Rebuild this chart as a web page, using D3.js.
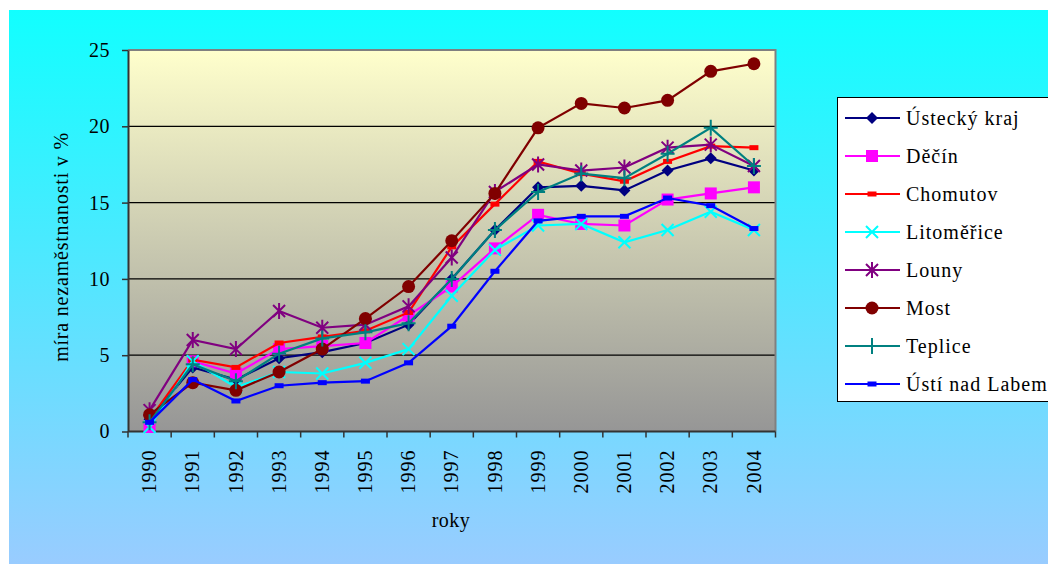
<!DOCTYPE html>
<html><head><meta charset="utf-8">
<script src="https://cdn.jsdelivr.net/npm/d3@7"></script>
<style>
html,body{margin:0;padding:0;background:#fff;}
svg{display:block;}
</style></head>
<body>
<script>
const years = ["1990","1991","1992","1993","1994","1995","1996","1997","1998","1999","2000","2001","2002","2003","2004"];
const seriesNames = ["Ústecký kraj","Děčín","Chomutov","Litoměřice","Louny","Most","Teplice","Ústí nad Labem"];
const usteckyKraj = [0.8, 4.2, 3.4, 4.8, 5.2, 5.8, 7.0, 10.0, 13.2, 16.0, 16.1, 15.8, 17.1, 17.9, 17.1];
const decin       = [0.3, 4.6, 3.8, 5.4, 5.6, 5.8, 7.6, 9.5, 12.0, 14.2, 13.6, 13.5, 15.2, 15.6, 16.0];
const chomutov    = [0.8, 4.7, 4.2, 5.8, 6.2, 6.6, 7.8, 12.1, 14.9, 17.7, 16.9, 16.4, 17.7, 18.7, 18.6];
const litomerice  = [0.3, 4.6, 2.9, 3.9, 3.8, 4.5, 5.4, 8.9, 11.9, 13.5, 13.6, 12.4, 13.2, 14.4, 13.2];
const louny       = [1.4, 6.0, 5.4, 7.9, 6.8, 7.0, 8.2, 11.4, 15.7, 17.5, 17.1, 17.3, 18.6, 18.8, 17.4];
const most        = [1.1, 3.2, 2.7, 3.9, 5.4, 7.4, 9.5, 12.5, 15.6, 19.9, 21.5, 21.2, 21.7, 23.6, 24.1];
const teplice     = [0.6, 4.4, 3.3, 5.1, 6.1, 6.5, 7.1, 10.0, 13.2, 15.7, 16.9, 16.6, 18.2, 19.9, 17.4];
const ustiNadLabem= [0.6, 3.4, 2.0, 3.0, 3.2, 3.3, 4.5, 6.9, 10.5, 13.8, 14.1, 14.1, 15.3, 14.8, 13.3];
const yTicks = [0, 5, 10, 15, 20, 25];
const yTitle = "míra nezaměstnanosti v %";
const xTitle = "roky";

const allValues = [usteckyKraj, decin, chomutov, litomerice, louny, most, teplice, ustiNadLabem];
const colors = ["#000080","#FF00FF","#FF0000","#00FFFF","#800080","#800000","#008080","#0000FF"];
const markers = ["diamond","square","dash","x","star","circle","plus","dash"];
const FONT = "'Liberation Serif', 'Times New Roman', serif";

const W = 1048, H = 564;
const plot = {l:128, t:50, r:775.5, b:431.5};

const svg = d3.select("body").append("svg").attr("width", W).attr("height", H)
  .style("font-family", FONT);
const defs = svg.append("defs");
const g1 = defs.append("linearGradient").attr("id","bgGrad").attr("x1",0).attr("y1",0).attr("x2",0).attr("y2",1);
g1.append("stop").attr("offset","0%").attr("stop-color","#11FFFF");
g1.append("stop").attr("offset","100%").attr("stop-color","#99CCFF");
const g2 = defs.append("linearGradient").attr("id","plotGrad").attr("x1",0).attr("y1",0).attr("x2",0).attr("y2",1);
g2.append("stop").attr("offset","0%").attr("stop-color","#FFFFCC");
g2.append("stop").attr("offset","100%").attr("stop-color","#969696");

svg.append("rect").attr("x",9).attr("y",10).attr("width",W-9).attr("height",H-10).attr("fill","url(#bgGrad)");

const x = d3.scaleBand().domain(years).range([plot.l, plot.r]);
const y = d3.scaleLinear().domain([0,25]).range([plot.b, plot.t]);

svg.append("rect").attr("x",plot.l).attr("y",plot.t).attr("width",plot.r-plot.l).attr("height",plot.b-plot.t)
  .attr("fill","url(#plotGrad)");

// gridlines
svg.append("g").selectAll("line").data(yTicks.filter(d=>d>0 && d<25)).join("line")
  .attr("x1",plot.l).attr("x2",plot.r).attr("y1",d=>y(d)).attr("y2",d=>y(d))
  .attr("stroke","#000").attr("stroke-width",1.3);

// top/right border
svg.append("path").attr("d",`M${plot.l},${plot.t}H${plot.r}V${plot.b}`).attr("fill","none")
  .attr("stroke","#808080").attr("stroke-width",2);

// y axis
const yAxis = svg.append("g").attr("transform",`translate(${plot.l},0)`)
  .call(d3.axisLeft(y).tickValues(yTicks).tickSize(6).tickSizeOuter(0).tickPadding(12));
yAxis.attr("font-family", null);
yAxis.select(".domain").attr("stroke","#333").attr("stroke-width",2);
yAxis.selectAll(".tick line").attr("stroke","#333").attr("stroke-width",1.5);
yAxis.selectAll(".tick text").style("font-family",FONT).style("font-size","20px").attr("fill","#000")
  .attr("letter-spacing","0.5px");

// x axis
const xAxis = svg.append("g").attr("transform",`translate(0,${plot.b})`)
  .call(d3.axisBottom(x).tickSize(0).tickPadding(0));
xAxis.attr("font-family", null);
xAxis.select(".domain").remove();
xAxis.append("line").attr("x1",plot.l).attr("x2",plot.r).attr("y1",0).attr("y2",0).attr("stroke","#333").attr("stroke-width",2);
xAxis.selectAll(".tick text").style("font-family",FONT).style("font-size","20px").attr("fill","#000")
  .attr("letter-spacing","1px")
  .attr("text-anchor","end").attr("transform","rotate(-90)")
  .attr("x",-18).attr("y",0).attr("dy","0.33em");
// boundary ticks
svg.append("g").selectAll("line").data(years.concat(["__end"])).join("line")
  .attr("x1",(d,i)=>plot.l + i*x.step()).attr("x2",(d,i)=>plot.l + i*x.step())
  .attr("y1",plot.b).attr("y2",plot.b+6).attr("stroke","#333").attr("stroke-width",1.5);

// axis titles
svg.append("text").attr("transform",`translate(68,247) rotate(-90)`).attr("text-anchor","middle")
  .style("font-family",FONT).style("font-size","20px").attr("letter-spacing","0.8px").text(yTitle);
svg.append("text").attr("x",451).attr("y",527).attr("text-anchor","middle")
  .style("font-family",FONT).style("font-size","20px").attr("letter-spacing","0.5px").text(xTitle);

function drawMarker(sel, type, color){
  if(type==="diamond") sel.append("path").attr("d","M0,-6L6,0L0,6L-6,0Z").attr("fill",color);
  else if(type==="square") sel.append("rect").attr("x",-6).attr("y",-6).attr("width",12).attr("height",12).attr("fill",color);
  else if(type==="dash") sel.append("rect").attr("x",-4.5).attr("y",-2.5).attr("width",9).attr("height",5).attr("fill",color);
  else if(type==="circle") sel.append("circle").attr("r",6.5).attr("fill",color);
  else if(type==="x") sel.append("path").attr("d","M-6,-6L6,6M-6,6L6,-6").attr("stroke",color).attr("stroke-width",2).attr("fill","none");
  else if(type==="star") sel.append("path").attr("d","M-6,-6L6,6M-6,6L6,-6M0,-8L0,8").attr("stroke",color).attr("stroke-width",2).attr("fill","none");
  else if(type==="plus") sel.append("path").attr("d","M-7,0L7,0M0,-8L0,8").attr("stroke",color).attr("stroke-width",2).attr("fill","none");
}

const line = d3.line().x((d,i)=>x(years[i]) + x.bandwidth()/2).y(d=>y(d));
allValues.forEach((vals, si)=>{
  const g = svg.append("g");
  g.append("path").datum(vals).attr("d",line).attr("fill","none").attr("stroke",colors[si]).attr("stroke-width",2.2);
  vals.forEach((v,i)=>{
    const m = g.append("g").attr("transform",`translate(${x(years[i]) + x.bandwidth()/2},${y(v)})`);
    drawMarker(m, markers[si], colors[si]);
  });
});

// legend
const leg = svg.append("g");
leg.append("rect").attr("x",837.5).attr("y",97.5).attr("width",220).attr("height",304)
  .attr("fill","#fff").attr("stroke","#000").attr("stroke-width",1);
seriesNames.forEach((name, i)=>{
  const cy = 118 + i*38;
  leg.append("line").attr("x1",845).attr("x2",900).attr("y1",cy).attr("y2",cy).attr("stroke",colors[i]).attr("stroke-width",2.2);
  const m = leg.append("g").attr("transform",`translate(872,${cy})`);
  drawMarker(m, markers[i], colors[i]);
  leg.append("text").attr("x",906).attr("y",cy).attr("dy","0.33em")
    .style("font-family",FONT).style("font-size","20px")
    .attr("letter-spacing","1px").text(name);
});
</script>
</body></html>
